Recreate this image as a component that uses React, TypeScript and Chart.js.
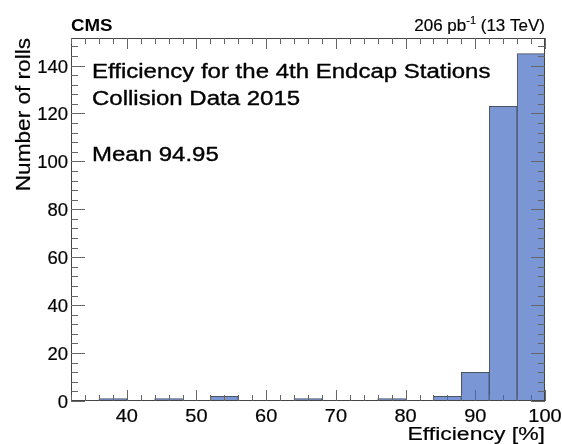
import React, { useEffect, useRef } from "react";
import { Chart, registerables } from "chart.js";

Chart.register(...registerables);

const binCenters = [34, 38, 42, 46, 50, 54, 58, 62, 66, 70, 74, 78, 82, 86, 90, 94, 98];
const binCounts = [0, 1, 0, 1, 0, 2, 0, 0, 1, 0, 0, 1, 0, 2, 12, 123, 145];
const xTicks = [40, 50, 60, 70, 80, 90, 100];
const yTicks = [0, 20, 40, 60, 80, 100, 120, 140];
const infoLines = ["Efficiency for the 4th Endcap Stations", "Collision Data 2015", "Mean 94.95"];

const X_MIN = 32;
const X_MAX = 100;
const Y_MAX = 151.5;
const FONT = '"Liberation Sans", Arial, sans-serif';

function txt(
  ctx: CanvasRenderingContext2D,
  s: string,
  x: number,
  y: number,
  size: number,
  opts: { bold?: boolean; align?: CanvasTextAlign; base?: CanvasTextBaseline; sx?: number; rot?: number; heavy?: number } = {}
) {
  const sx = opts.sx ?? 1;
  ctx.save();
  ctx.font = `${opts.bold ? "bold " : ""}${size}px ${FONT}`;
  ctx.textAlign = opts.align ?? "left";
  ctx.textBaseline = opts.base ?? "alphabetic";
  ctx.translate(x, y);
  if (opts.rot) ctx.rotate(opts.rot);
  ctx.scale(sx, 1);
  ctx.fillStyle = "#000";
  ctx.fillText(s, 0, 0);
  if (opts.heavy) {
    ctx.strokeStyle = "#000";
    ctx.lineWidth = opts.heavy;
    ctx.lineJoin = "round";
    ctx.strokeText(s, 0, 0);
  }
  ctx.restore();
}

function width(ctx: CanvasRenderingContext2D, s: string, size: number, sx: number) {
  ctx.save();
  ctx.font = `${size}px ${FONT}`;
  const w = ctx.measureText(s).width * sx;
  ctx.restore();
  return w;
}

const framePlugin = {
  id: "rootFrame",
  afterDatasetsDraw(chart: any) {
    const ctx = chart.ctx as CanvasRenderingContext2D;
    const a = chart.chartArea;
    const xs = chart.scales.x;
    const ys = chart.scales.y;
    ctx.save();
    ctx.strokeStyle = "#444";
    ctx.lineWidth = 1;
    ctx.strokeRect(a.left + 0.5, a.top + 0.5, a.right - a.left - 1, a.bottom - a.top - 1);
    ctx.strokeStyle = "#666";
    ctx.beginPath();
    for (let v = X_MIN; v <= X_MAX; v += 2) {
      const px = Math.round(xs.getPixelForValue(v)) + 0.5;
      const len = v % 10 === 0 ? 11 : 6;
      ctx.moveTo(px, a.bottom);
      ctx.lineTo(px, a.bottom - len);
      ctx.moveTo(px, a.top);
      ctx.lineTo(px, a.top + len);
    }
    for (let v = 0; v <= Y_MAX; v += 4) {
      const py = Math.round(ys.getPixelForValue(v)) + 0.5;
      const len = v % 20 === 0 ? 14 : 7;
      ctx.moveTo(a.left, py);
      ctx.lineTo(a.left + len, py);
      ctx.moveTo(a.right, py);
      ctx.lineTo(a.right - len, py);
    }
    ctx.stroke();
    const hv = 0.2;
    for (const v of xTicks) {
      txt(ctx, String(v), xs.getPixelForValue(v), a.bottom + 21, 18.5, { align: "center", sx: 1.08, heavy: hv });
    }
    for (const v of yTicks) {
      txt(ctx, String(v), a.left - 3, ys.getPixelForValue(v) + 7, 18.5, { align: "right", sx: 1.0, heavy: hv });
    }
    txt(ctx, "Efficiency [%]", a.right, 440, 18.7, { align: "right", sx: 1.23, heavy: hv });
    txt(ctx, "Number of rolls", 30, a.top, 20, { align: "right", rot: -Math.PI / 2, sx: 1.13, heavy: hv });
    txt(ctx, "CMS", a.left, 31, 17, { bold: true, sx: 1.1 });
    const sxh = 1.0;
    const w1 = width(ctx, "206 pb", 17, sxh);
    const w2 = width(ctx, "-1", 11, sxh);
    const w3 = width(ctx, " (13 TeV)", 17, sxh);
    const x0 = a.right - (w1 + w2 + w3);
    txt(ctx, "206 pb", x0, 31, 17, { sx: sxh, heavy: hv });
    txt(ctx, "-1", x0 + w1, 24, 11, { sx: sxh, heavy: 0.15 });
    txt(ctx, " (13 TeV)", x0 + w1 + w2, 31, 17, { sx: sxh, heavy: hv });
    const baselines = [77.5, 105, 160.5];
    infoLines.forEach((t, i) => {
      txt(ctx, t, 92, baselines[i], 20, { sx: 1.2, heavy: 0.35 });
    });
    ctx.restore();
  },
};

export default function App() {
  const ref = useRef<HTMLCanvasElement | null>(null);
  useEffect(() => {
    document.body.style.margin = "0";
    const chart = new Chart(ref.current as HTMLCanvasElement, {
      type: "bar",
      data: {
        datasets: [
          {
            data: binCenters.map((c, i) => ({ x: c, y: binCounts[i] })),
            backgroundColor: "#7b96d4",
            borderColor: binCounts.map((v) => (v > 0 ? "#4a5260" : "rgba(0,0,0,0)")),
            borderWidth: 1,
            borderSkipped: "bottom",
            barPercentage: 1,
            categoryPercentage: 1,
          },
        ],
      },
      options: {
        responsive: false,
        animation: false,
        layout: { padding: { left: 71, right: 17, top: 38, bottom: 43 } },
        plugins: { legend: { display: false }, tooltip: { enabled: false } },
        scales: {
          x: { type: "linear", min: X_MIN, max: X_MAX, display: false, offset: false },
          y: { type: "linear", min: 0, max: Y_MAX, display: false },
        },
      },
      plugins: [framePlugin],
    });
    return () => chart.destroy();
  }, []);
  return (
    <div style={{ position: "fixed", left: 0, top: 0, width: 562, height: 444, background: "#fff" }}>
      <canvas ref={ref} width={562} height={444} />
    </div>
  );
}
